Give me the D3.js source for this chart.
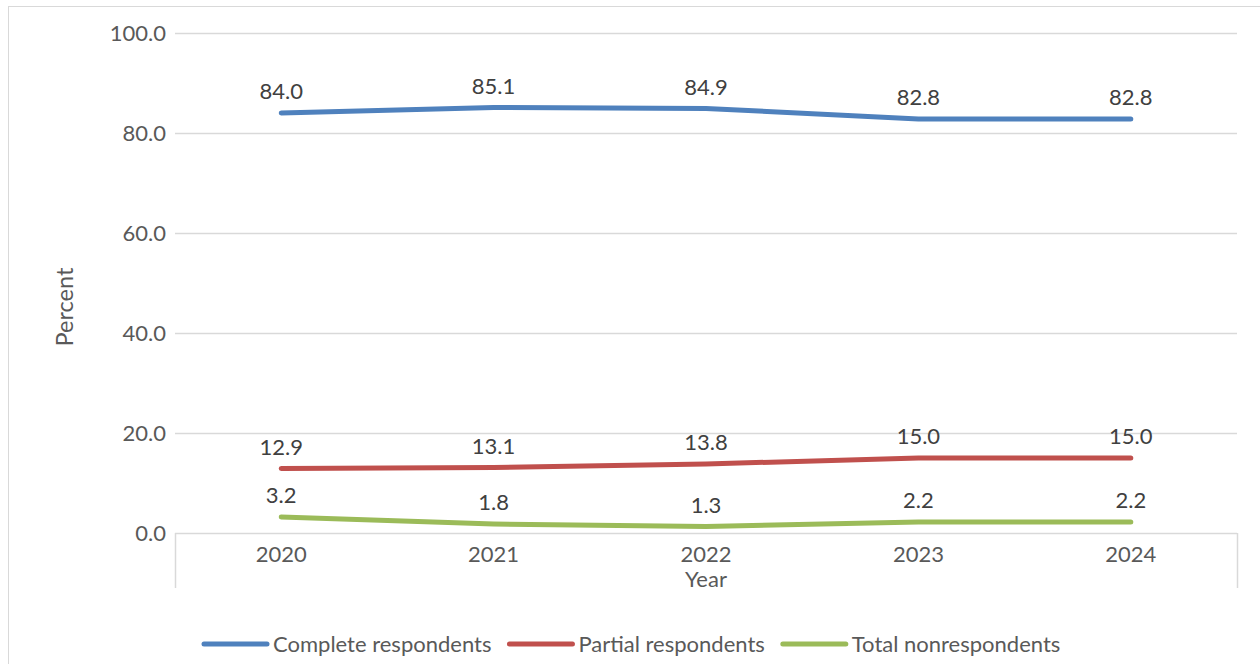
<!DOCTYPE html>
<html>
<head>
<meta charset="utf-8">
<script src="https://cdn.jsdelivr.net/npm/d3@7"></script>
<style>
  html, body { margin: 0; padding: 0; background: #fff; }
  svg { display: block; font-family: Lato, "Open Sans", sans-serif; }
</style>
</head>
<body>
<svg id="chart" width="1260" height="664"></svg>
<script>
// Response status shares by survey year
const years = ["2020", "2021", "2022", "2023", "2024"];
const completeRespondents = [84.0, 85.1, 84.9, 82.8, 82.8];
const partialRespondents = [12.9, 13.1, 13.8, 15.0, 15.0];
const totalNonrespondents = [3.2, 1.8, 1.3, 2.2, 2.2];
const yTicks = [0, 20, 40, 60, 80, 100];

const seriesList = [
  { name: "Complete respondents", values: completeRespondents, color: "#4f81bd" },
  { name: "Partial respondents", values: partialRespondents, color: "#c0504d" },
  { name: "Total nonrespondents", values: totalNonrespondents, color: "#9bbb59" }
];

const svg = d3.select("#chart");
const plot = { left: 175, right: 1237, top: 33, bottom: 533 };

// outer chart frame
svg.append("rect")
  .attr("x", 8.5).attr("y", 6.5)
  .attr("width", 1300).attr("height", 700)
  .attr("fill", "none").attr("stroke", "#d9d9d9").attr("stroke-width", 1);

const x = d3.scaleBand().domain(years).range([plot.left, plot.right]).padding(0);
const y = d3.scaleLinear().domain([0, 100]).range([plot.bottom, plot.top]);

// horizontal gridlines
svg.append("g")
  .selectAll("line")
  .data(yTicks.filter(t => t > 0))
  .join("line")
  .attr("x1", plot.left).attr("x2", plot.right)
  .attr("y1", d => Math.round(y(d)) + 0.5).attr("y2", d => Math.round(y(d)) + 0.5)
  .attr("stroke", "#d9d9d9").attr("stroke-width", 1.5);

// y axis labels
const yAxis = d3.axisLeft(y).tickValues(yTicks).tickFormat(d3.format(".1f")).tickSize(0).tickPadding(9);
svg.append("g")
  .attr("transform", `translate(${plot.left},0)`)
  .call(yAxis)
  .call(g => g.select(".domain").remove())
  .call(g => g.selectAll("text")
    .attr("font-family", "Lato, sans-serif")
    .attr("font-size", 22)
    .attr("fill", "#595959"));

// x axis with category boundary ticks at both ends
const xAxis = d3.axisBottom(x).tickSize(0).tickPadding(13);
svg.append("g")
  .attr("transform", `translate(0,${plot.bottom})`)
  .call(xAxis)
  .call(g => g.select(".domain").remove())
  .call(g => g.selectAll("text")
    .attr("font-family", "Lato, sans-serif")
    .attr("font-size", 22)
    .attr("fill", "#595959"));

svg.append("line")
  .attr("x1", plot.left).attr("x2", plot.right)
  .attr("y1", plot.bottom + 0.5).attr("y2", plot.bottom + 0.5)
  .attr("stroke", "#d9d9d9").attr("stroke-width", 1.5);
svg.append("g")
  .selectAll("line")
  .data([plot.left, plot.right])
  .join("line")
  .attr("x1", d => d + 0.5).attr("x2", d => d + 0.5)
  .attr("y1", plot.bottom).attr("y2", plot.bottom + 55)
  .attr("stroke", "#d9d9d9").attr("stroke-width", 1.5);

// axis titles
svg.append("text")
  .attr("x", x("2022") + x.bandwidth() / 2).attr("y", 587)
  .attr("text-anchor", "middle")
  .attr("font-size", 22).attr("fill", "#595959")
  .text("Year");
svg.append("text")
  .attr("transform", "translate(73,307) rotate(-90)")
  .attr("text-anchor", "middle")
  .attr("font-size", 23.5).attr("fill", "#595959")
  .text("Percent");

// series lines and value labels
const line = d3.line()
  .x((d, i) => x(years[i]) + x.bandwidth() / 2)
  .y(d => y(d));

seriesList.forEach(s => {
  svg.append("path")
    .datum(s.values)
    .attr("d", line)
    .attr("fill", "none")
    .attr("stroke", s.color)
    .attr("stroke-width", 5)
    .attr("stroke-linecap", "round")
    .attr("stroke-linejoin", "round");

  svg.append("g")
    .selectAll("text")
    .data(s.values)
    .join("text")
    .attr("x", (d, i) => x(years[i]) + x.bandwidth() / 2)
    .attr("y", d => y(d) - 14)
    .attr("text-anchor", "middle")
    .attr("font-size", 22)
    .attr("fill", "#404040")
    .text(d => d3.format(".1f")(d));
});

// legend laid out left to right: swatch, label, gap
const legend = svg.append("g");
const swatchW = 63, labelGap = 6, itemGap = 18;
let lx = 204;
seriesList.forEach(s => {
  legend.append("line")
    .attr("x1", lx).attr("x2", lx + swatchW)
    .attr("y1", 644).attr("y2", 644)
    .attr("stroke", s.color).attr("stroke-width", 5)
    .attr("stroke-linecap", "round");
  const t = legend.append("text")
    .attr("x", lx + swatchW + labelGap).attr("y", 652)
    .attr("font-size", 22).attr("fill", "#595959")
    .text(s.name);
  lx += swatchW + labelGap + t.node().getComputedTextLength() + itemGap;
});
</script>
</body>
</html>
